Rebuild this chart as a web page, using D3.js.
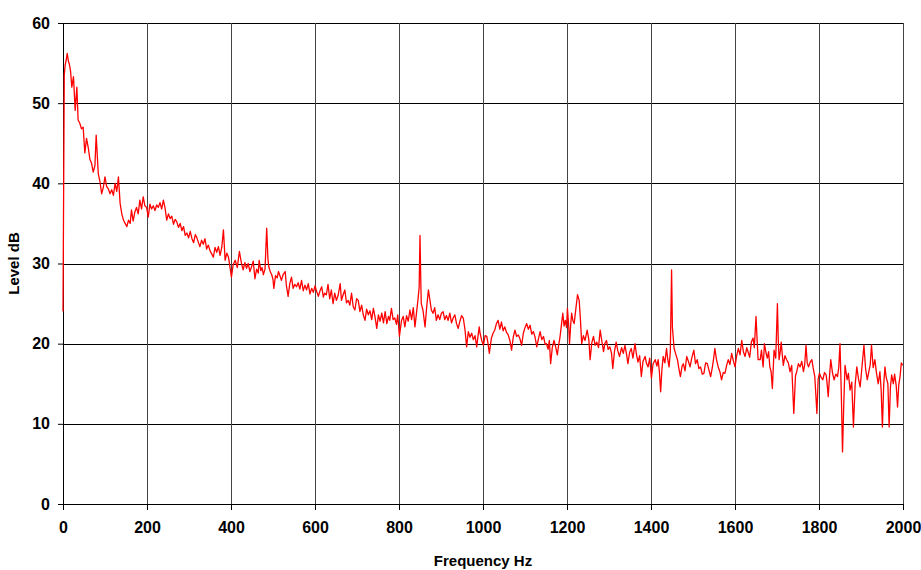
<!DOCTYPE html>
<html>
<head>
<meta charset="utf-8">
<script src="https://cdn.jsdelivr.net/npm/d3@7"></script>
<style>
  body { margin: 0; background: #fff; }
  text { font-family: "Liberation Sans", Arial, sans-serif; font-weight: bold; }
</style>
</head>
<body>
<div id="chart"></div>
<script>
// spectrum: frequency (Hz) and level (dB)
const freqs = [0,3,5,8,10,13,15,18,21,25,29,33,36,40,44,48,52,56,60,64,68,72,76,79,84,88,92,96,100,104,108,112,116,120,124,128,132,136,140,144,148,152,156,160,163,167,171,175,179,183,187,191,195,199,203,207,211,215,219,223,227,231,235,239,243,247,251,255,259,263,267,271,275,279,283,287,291,295,299,303,307,311,315,318,322,326,330,334,338,342,346,350,354,358,362,366,370,374,378,382,386,390,394,398,401,405,410,415,420,425,429,433,437,441,445,449,453,457,461,465,467,471,474,477,481,485,488,490,494,497,500,502,506,510,513,517,520,524,529,532,536,540,544,548,552,556,560,564,568,572,576,580,584,588,592,596,600,604,608,612,616,620,623,627,631,635,639,643,647,651,655,660,663,667,671,675,679,683,687,691,695,699,703,707,711,715,719,723,727,731,735,739,743,747,751,755,759,763,767,771,775,778,782,786,790,794,797,801,806,810,814,818,822,826,830,834,838,842,845,848,850,852,853,857,862,866,870,874,877,881,885,889,893,897,901,905,909,913,917,921,925,929,933,937,941,945,949,953,957,961,965,969,973,977,981,985,988,991,993,997,1001,1005,1009,1012,1015,1020,1024,1028,1032,1036,1040,1044,1048,1052,1056,1060,1064,1068,1072,1076,1080,1084,1088,1092,1096,1100,1104,1108,1112,1116,1120,1124,1128,1132,1136,1140,1144,1148,1151,1155,1158,1161,1165,1169,1173,1177,1180,1183,1186,1190,1193,1196,1199,1201,1204,1206,1209,1211,1214,1217,1221,1225,1229,1232,1235,1239,1243,1246,1248,1252,1255,1259,1263,1267,1271,1275,1279,1283,1287,1290,1294,1298,1302,1306,1309,1313,1317,1321,1325,1330,1334,1338,1342,1345,1349,1353,1357,1362,1365,1369,1373,1377,1381,1386,1389,1393,1397,1401,1405,1410,1414,1417,1420,1423,1426,1429,1433,1437,1440,1443,1446,1449,1451,1455,1459,1463,1466,1470,1474,1477,1481,1485,1489,1493,1497,1502,1506,1510,1514,1518,1522,1526,1530,1534,1538,1542,1546,1549,1552,1556,1560,1564,1568,1572,1576,1580,1584,1588,1592,1596,1600,1604,1608,1612,1616,1620,1624,1628,1631,1635,1639,1643,1646,1650,1653,1655,1660,1663,1667,1670,1674,1677,1680,1683,1686,1689,1693,1697,1701,1703,1705,1708,1710,1713,1715,1719,1723,1727,1731,1735,1740,1744,1747,1751,1755,1759,1763,1766,1769,1772,1775,1779,1783,1786,1790,1795,1798,1801,1805,1809,1813,1817,1819,1822,1825,1828,1832,1836,1840,1844,1847,1850,1853,1856,1859,1862,1867,1870,1874,1878,1882,1886,1890,1894,1898,1902,1907,1911,1915,1919,1922,1925,1929,1933,1937,1941,1945,1948,1951,1954,1957,1960,1964,1967,1970,1973,1977,1980,1984,1987,1990,1993,1996,1999];
const levels = [24,53.5,54.7,55.5,56.2,55.2,54.9,54,52,53.3,49.1,52,47.9,47.5,46.8,47,43.8,45.6,44.5,43,42.5,41.4,42.2,46,41.2,40.2,38.7,39.5,40.8,39.6,39.3,38.7,39.2,38.5,40,39,40.8,37.5,36.2,35.4,35,34.6,35.4,35,36.7,35.3,36.4,37,36.2,37.9,36.8,38.3,37.2,37,35.8,37.4,36.8,37.2,36.6,37.3,37,37.6,36.8,37.9,36.9,35.4,36.2,35.6,35.9,34.9,35.5,35.2,34.5,35,34.1,34.6,33.5,33.8,33.2,34,33.1,32.6,33.6,33.3,32.7,32.1,32.9,32.4,33.1,31.8,32.3,31.6,31.2,30.8,32,31.4,32.1,31,32,34.2,30.4,31.3,30.8,29.4,28.3,29.8,30.4,29.5,31.5,30,29.2,30.1,29.4,30,29,29.6,30.3,28.1,29.3,28.8,30.4,29.1,29.5,28.6,29.3,34.4,30.5,29.6,28.9,28.6,28,26.9,28.5,28.2,29,28.4,27.9,28.6,29,27.2,25.9,27.5,28.3,26.9,27.4,27.1,27.6,26.8,27.9,26.6,27.3,26.7,27.5,26.2,26.9,26.4,27.2,26.5,25.9,26.6,27.1,25.8,26.3,26.1,27.4,25.6,26.7,25,26.3,25.4,26,27.5,25.4,26.1,26.7,25.1,25.4,24.8,26.3,24.6,24.2,25.6,25.4,24,24.8,23.6,22.9,24.3,23.6,24.1,23,24.4,23.3,21.9,23.6,22.8,23.8,22.6,24,22.5,23.4,22.9,24.4,23,23.2,22.4,23.6,20.9,22.9,23.4,22.1,23.5,22.8,24.2,23,24.5,22.1,24,25.4,27,33.5,27.5,25,24.2,22.1,24.6,26.7,25.3,24.2,23.8,24.5,22.9,23.6,23,23.8,24,23,23.5,22.9,23.8,22.6,23.2,23.6,22.5,21.9,22.8,23.5,23.2,21.8,19.6,21.5,20.8,21.3,20.5,21,19.6,20.9,22.1,21.3,20.4,19.8,21,20.9,20,18.8,20.7,21.3,21.7,22.5,22.9,21.8,22.7,21.6,22.1,21.4,21.1,20.4,19.2,20.8,21.7,20.9,21.1,20.6,19.8,21.3,22,22.5,21.8,22.3,21.2,21.5,20.8,19.6,20.6,21.5,20.5,20.9,19.9,20,19.3,20.4,17.5,19.5,20.4,19.6,18.6,19.8,20.7,22,23.8,22.2,22.9,22,24.4,22.3,20,22.5,23.8,22.9,22.5,24.3,26.1,25.4,23,20,21,20.4,21.2,21.7,20.5,18,20.1,20.9,19.8,20.2,19.5,21.7,20.3,19,20,20.4,19.3,19.6,18.8,16.9,19,20.2,19.1,18.4,19.5,18.8,19.8,18.6,17.5,18.9,19.4,18.2,20,18.8,17.7,18.5,15.9,17.8,18.4,17.6,17.1,18.2,15.7,17.5,18,17.2,18,16.5,14,16.8,18.4,17.6,19.4,18,17.1,19,29.2,22,19.4,18.7,18,17,15.9,17.2,17.5,16.6,18.4,17.8,17.1,18.2,19.2,17.5,18,16.9,17.1,16.2,16.3,17.6,17.5,16.7,15.9,17,18.1,19.4,18,17.1,16.5,15.5,16.4,16.3,17.3,18,17.4,18.8,17.9,17.1,18.5,19.4,18.6,20.4,19,18.4,19.5,19,18.3,20.2,20.7,19.5,23.4,20.1,18,18,19.2,17.1,20,18.8,18.2,19,17.1,16.5,14.4,19.2,18.2,25,20.5,18,19.1,20.2,18.4,17.3,18.5,18,17.6,16.5,17.3,11.3,16,16.5,17.5,17.1,17.8,16.5,17.4,19.8,17.6,17.1,17.7,18,17,15.9,11.3,15.6,16.3,15.8,15.5,16.4,16.1,15.2,13.4,15.9,18,16.4,15.5,16.2,15.9,17,20,14,6.5,12.5,17.3,15.5,16.3,14.2,15.2,9.6,14.8,17.1,15.6,14.6,16.9,19.8,16.8,15.5,16.6,17.4,19.8,17,18,16.3,15,16.5,14.2,9.6,14.8,17.1,15.8,15,9.6,14.5,16.1,15,16.2,14.7,12.1,14.9,15.9,17.6,17.3];

const xTicks = [0, 200, 400, 600, 800, 1000, 1200, 1400, 1600, 1800, 2000];
const yTicks = [0, 10, 20, 30, 40, 50, 60];

const data = freqs.map((f, i) => ({ f: f, v: levels[i] }));

const margin = { top: 23, right: 18, bottom: 66, left: 63 };
const width = 921 - margin.left - margin.right;
const height = 570 - margin.top - margin.bottom;

const svg = d3.select("#chart")
  .append("svg")
  .attr("width", 921)
  .attr("height", 570)
  .append("g")
  .attr("transform", `translate(${margin.left},${margin.top})`);

const x = d3.scaleLinear().domain([0, 2000]).range([0, width]);
const y = d3.scaleLinear().domain([0, 60]).range([height, 0]);

// grid
svg.append("g")
  .selectAll("line.hgrid")
  .data(yTicks)
  .enter()
  .append("line")
  .attr("x1", 0).attr("x2", width)
  .attr("y1", d => Math.round(y(d)) + 0.5).attr("y2", d => Math.round(y(d)) + 0.5)
  .attr("stroke", "#000").attr("stroke-width", 1);

svg.append("g")
  .selectAll("line.vgrid")
  .data(xTicks)
  .enter()
  .append("line")
  .attr("y1", 0).attr("y2", height)
  .attr("x1", d => Math.round(x(d)) + 0.5).attr("x2", d => Math.round(x(d)) + 0.5)
  .attr("stroke", d => d === 0 ? "#000" : "#444").attr("stroke-width", 1);

// axes (tick marks and labels)
const yAxis = svg.append("g")
  .call(d3.axisLeft(y).tickValues(yTicks).tickSize(5).tickPadding(8));
const xAxis = svg.append("g")
  .attr("transform", `translate(0,${height})`)
  .call(d3.axisBottom(x).tickValues(xTicks).tickFormat(d3.format("d")).tickSize(6).tickPadding(12));

[yAxis, xAxis].forEach(a => {
  a.select(".domain").attr("stroke", "#000");
  a.selectAll(".tick line").attr("stroke", "#000");
  a.selectAll(".tick text")
    .attr("fill", "#000")
    .style("font-size", "16px")
    .style("font-family", "'Liberation Sans', Arial, sans-serif")
    .style("font-weight", "bold");
});

// spectrum line
const line = d3.line()
  .x(d => x(d.f))
  .y(d => y(d.v));

svg.append("path")
  .datum(data)
  .attr("fill", "none")
  .attr("stroke", "#ff0000")
  .attr("stroke-width", 1.3)
  .attr("stroke-linejoin", "round")
  .attr("d", line);

// axis titles
svg.append("text")
  .attr("text-anchor", "middle")
  .attr("x", width / 2)
  .attr("y", height + 62)
  .style("font-size", "15px")
  .text("Frequency Hz");

svg.append("text")
  .attr("text-anchor", "middle")
  .attr("transform", `translate(-44,${height / 2})rotate(-90)`)
  .style("font-size", "15px")
  .text("Level dB");
</script>
</body>
</html>
